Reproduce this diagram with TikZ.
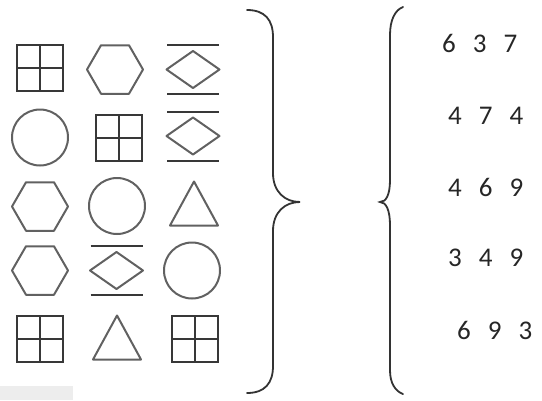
\documentclass[tikz,border=0pt]{standalone}
\usepackage{fontspec}
\newfontfamily\numfont{Carlito}
\newcommand\digitfont{\numfont\fontsize{27}{30}\selectfont\spaceskip 17pt\relax}
\begin{document}
\begin{tikzpicture}[x=1pt,y=-1pt,
  shp/.style={draw=black!62,line width=2pt,line join=round},
  gline/.style={draw=black!78,line width=2pt},
  brace/.style={draw=black!80,line width=1.8pt,line cap=round},
  digits/.style={anchor=west,inner sep=0pt,text=black!85,font=\digitfont},
  gridsq/.pic={\draw[gline] (-23,-23) rectangle (23,23);
               \draw[gline] (0,-23) -- (0,23) (-23,0) -- (23,0);},
  hexa/.pic={\draw[shp] (-28,0) -- (-14,-24.25) -- (14,-24.25) -- (28,0) -- (14,24.25) -- (-14,24.25) -- cycle;},
  circ/.pic={\draw[shp] (0,0) circle[radius=28];},
  tri/.pic={\draw[shp] (0,-22) -- (24,22) -- (-24,22) -- cycle;},
  dline/.pic={\draw[shp] (-26.5,0) -- (0,-18.5) -- (26.5,0) -- (0,18.5) -- cycle;
              \draw[gline] (-26,-24.5) -- (26,-24.5) (-26,24.5) -- (26,24.5);}
]
\useasboundingbox (0,0) rectangle (542,400);
\fill[black!7] (0,386) rectangle (73,400);
% row 1
\pic at (40,67.5) {gridsq};
\pic at (115,69.5) {hexa};
\pic at (193,69.5) {dline};
% row 2
\pic at (40,137.5) {circ};
\pic at (118.5,137.5) {gridsq};
\pic at (193,136) {dline};
% row 3
\pic at (40,206.5) {hexa};
\pic at (117,206) {circ};
\pic at (194,203.5) {tri};
% row 4
\pic at (40,270.5) {hexa};
\pic at (116.5,270.5) {dline};
\pic at (192,270.5) {circ};
% row 5
\pic at (40,338.5) {gridsq};
\pic at (117,337.5) {tri};
\pic at (195,338.5) {gridsq};
% braces
\draw[brace] (247,10) .. controls (265,10) and (273,20) .. (273,37)
  -- (273,173) .. controls (273,192) and (285,202) .. (300,202)
  .. controls (285,202) and (273,212) .. (273,231)
  -- (273,366) .. controls (273,383) and (265,393) .. (247,393);
\draw[brace] (403,7) .. controls (395,10) and (390,20) .. (390,35)
  -- (390,180) .. controls (390,195) and (386,202) .. (380,202)
  .. controls (386,202) and (390,210) .. (390,225)
  -- (390,370) .. controls (390,383) and (395,391) .. (403,394);
% numbers
\node[digits] (n1) at (442,43) {6 3 7};
\node[digits] (n2) at (448,116) {4 7 4};
\node[digits] (n3) at (448,187) {4 6 9};
\node[digits] (n4) at (448,258) {3 4 9};
\node[digits] (n5) at (457,330) {6 9 3};
\end{tikzpicture}
\end{document}
